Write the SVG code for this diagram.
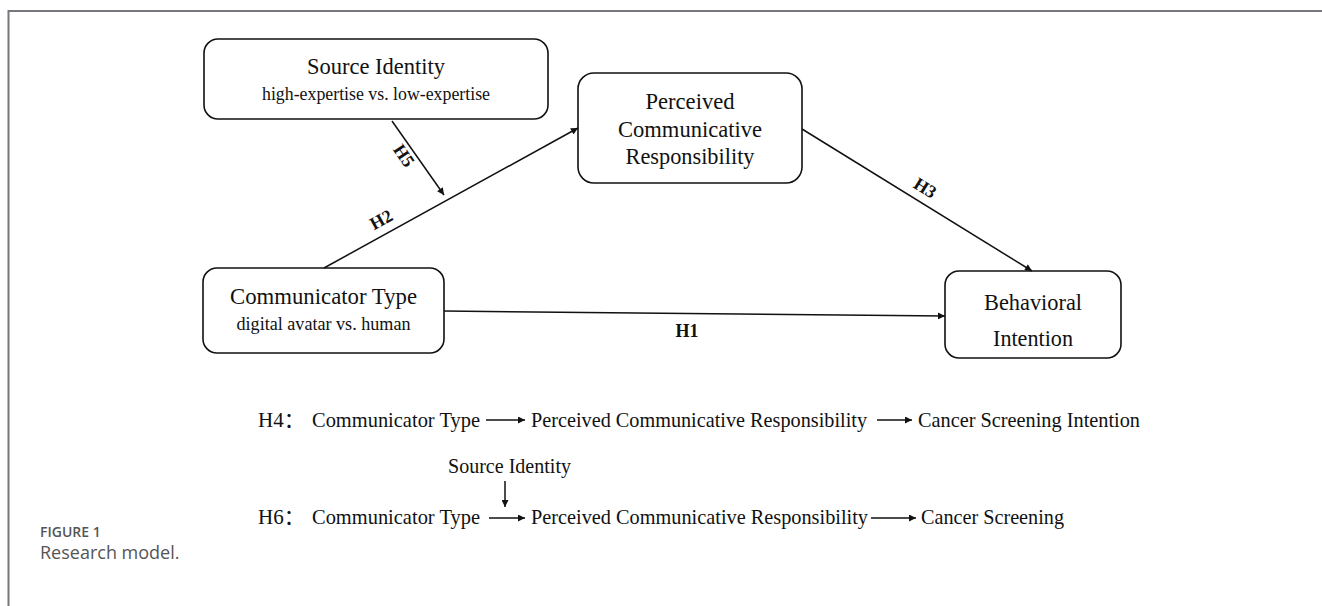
<svg xmlns="http://www.w3.org/2000/svg" width="1322" height="606" viewBox="0 0 1322 606">
<style>
.box{fill:#fff;stroke:#111;stroke-width:1.6}
.t{font-family:"Liberation Serif","Times New Roman","Noto Sans CJK SC",serif;fill:#111}
.main{font-size:23px;text-anchor:middle}
.sub{font-size:18px;text-anchor:middle}
.lab{font-size:18px;font-weight:bold;text-anchor:middle}
.bt{font-size:21px}
.ln{stroke:#111;stroke-width:1.5;fill:none}
.frame{stroke:#77777d;stroke-width:2;fill:none}
.cap{font-family:"Open Sans","Noto Sans",sans-serif;fill:#555}
</style>
<defs>
<marker id="ah" viewBox="0 0 10 10" refX="10" refY="5" markerWidth="8" markerHeight="7" orient="auto" markerUnits="userSpaceOnUse">
<path d="M0,0 L10,5 L0,10 z" fill="#111"/>
</marker>
<marker id="ah2" viewBox="0 0 10 10" refX="10" refY="5" markerWidth="9" markerHeight="7" orient="auto" markerUnits="userSpaceOnUse">
<path d="M0,0 L10,5 L0,10 z" fill="#111"/>
</marker>
</defs>
<path class="frame" d="M8.5,606 V11 H1322"/>

<g id="source-identity">
<rect class="box" x="204" y="39" width="344" height="80" rx="14"/>
<text class="t main" x="376" y="74" textLength="138" lengthAdjust="spacingAndGlyphs">Source Identity</text>
<text class="t sub" x="376" y="100" textLength="228" lengthAdjust="spacingAndGlyphs">high-expertise vs. low-expertise</text>
</g>
<g id="perceived-responsibility">
<rect class="box" x="578" y="73" width="224" height="110" rx="16"/>
<text class="t main" x="690" y="109" textLength="89" lengthAdjust="spacingAndGlyphs">Perceived</text>
<text class="t main" x="690" y="137" textLength="144" lengthAdjust="spacingAndGlyphs">Communicative</text>
<text class="t main" x="690" y="164" textLength="129" lengthAdjust="spacingAndGlyphs">Responsibility</text>
</g>
<g id="communicator-type">
<rect class="box" x="203" y="268" width="241" height="85" rx="14"/>
<text class="t main" x="323.5" y="304" textLength="187" lengthAdjust="spacingAndGlyphs">Communicator Type</text>
<text class="t sub" x="323.5" y="330" textLength="174" lengthAdjust="spacingAndGlyphs">digital avatar vs. human</text>
</g>
<g id="behavioral-intention">
<rect class="box" x="945" y="271" width="176" height="87" rx="14"/>
<text class="t main" x="1033" y="310" textLength="98" lengthAdjust="spacingAndGlyphs">Behavioral</text>
<text class="t main" x="1033" y="346" textLength="80" lengthAdjust="spacingAndGlyphs">Intention</text>
</g>

<g id="connectors">
<line class="ln" x1="324" y1="268" x2="578" y2="128" marker-end="url(#ah)"/>
<line class="ln" x1="392" y1="121" x2="444" y2="195" marker-end="url(#ah)"/>
<line class="ln" x1="802" y1="129" x2="1032" y2="271" marker-end="url(#ah)"/>
<line class="ln" x1="444" y1="311" x2="945" y2="316" marker-end="url(#ah)"/>
<text class="t lab" transform="translate(384,225) rotate(-29)">H2</text>
<text class="t lab" transform="translate(399,159) rotate(56)">H5</text>
<text class="t lab" transform="translate(922,193) rotate(32)">H3</text>
<text class="t lab" x="687" y="337">H1</text>
</g>

<g id="h4">
<text class="t bt" x="258" y="427">H4：</text>
<text class="t bt" x="312" y="427" textLength="168" lengthAdjust="spacingAndGlyphs">Communicator Type</text>
<line class="ln" x1="486" y1="420" x2="525" y2="420" marker-end="url(#ah2)"/>
<text class="t bt" x="531" y="427" textLength="336" lengthAdjust="spacingAndGlyphs">Perceived Communicative Responsibility</text>
<line class="ln" x1="877" y1="420" x2="912" y2="420" marker-end="url(#ah2)"/>
<text class="t bt" x="918" y="427" textLength="222" lengthAdjust="spacingAndGlyphs">Cancer Screening Intention</text>
</g>
<g id="h6">
<text class="t bt" x="448" y="473" textLength="123" lengthAdjust="spacingAndGlyphs">Source Identity</text>
<line class="ln" x1="505" y1="481" x2="505" y2="507" marker-end="url(#ah2)"/>
<text class="t bt" x="258" y="524">H6：</text>
<text class="t bt" x="312" y="524" textLength="168" lengthAdjust="spacingAndGlyphs">Communicator Type</text>
<line class="ln" x1="489" y1="518" x2="525" y2="518" marker-end="url(#ah2)"/>
<text class="t bt" x="531" y="524" textLength="337" lengthAdjust="spacingAndGlyphs">Perceived Communicative Responsibility</text>
<line class="ln" x1="871" y1="518" x2="916" y2="518" marker-end="url(#ah2)"/>
<text class="t bt" x="921" y="524" textLength="143" lengthAdjust="spacingAndGlyphs">Cancer Screening</text>
</g>

<g id="caption">
<text class="cap" x="40" y="537" font-size="14" font-weight="600">FIGURE 1</text>
<text class="cap" x="40" y="559" font-size="18">Research model.</text>
</g>
</svg>
